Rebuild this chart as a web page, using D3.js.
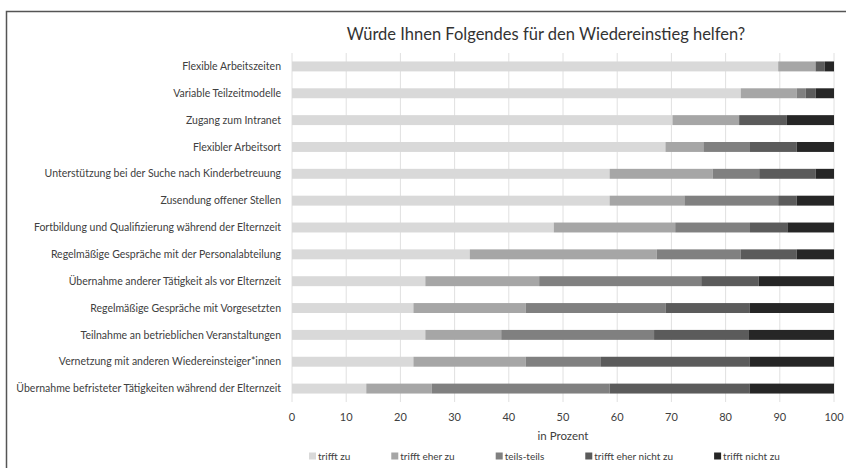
<!DOCTYPE html>
<html>
<head>
<meta charset="utf-8">
<script src="https://cdn.jsdelivr.net/npm/d3@7"></script>
<style>
  body { margin: 0; background: #fff; }
  svg text { font-family: Lato, "Open Sans", sans-serif; }
</style>
</head>
<body>
<svg id="chart" width="846" height="468"></svg>
<script>
// categories, top to bottom
const categories = [
    "Flexible Arbeitszeiten",
    "Variable Teilzeitmodelle",
    "Zugang zum Intranet",
    "Flexibler Arbeitsort",
    "Unterstützung bei der Suche nach Kinderbetreuung",
    "Zusendung offener Stellen",
    "Fortbildung und Qualifizierung während der Elternzeit",
    "Regelmäßige Gespräche mit der Personalabteilung",
    "Übernahme anderer Tätigkeit als vor Elternzeit",
    "Regelmäßige Gespräche mit Vorgesetzten",
    "Teilnahme an betrieblichen Veranstaltungen",
    "Vernetzung mit anderen Wiedereinsteiger*innen",
    "Übernahme befristeter Tätigkeiten während der Elternzeit"
];

const seriesNames = ["trifft zu", "trifft eher zu", "teils-teils", "trifft eher nicht zu", "trifft nicht zu"];

// percent values per series (same order as categories)
const triffZu         = [89.7, 82.8, 70.2, 68.9, 58.6, 58.6, 48.3, 32.8, 24.6, 22.4, 24.6, 22.4, 13.7];
const triffEherZu     = [6.9, 10.3, 12.3, 7.0, 19.0, 13.8, 22.4, 34.5, 21.0, 20.7, 14.0, 20.7, 12.1];
const teilsTeils      = [0.0, 1.7, 0.0, 8.6, 8.6, 17.3, 13.8, 15.5, 29.9, 25.8, 28.2, 13.9, 32.8];
const triffEherNicht  = [1.7, 1.8, 8.8, 8.6, 10.4, 3.4, 6.9, 10.3, 10.6, 15.5, 17.4, 27.4, 25.8];
const triffNicht      = [1.7, 3.4, 8.7, 6.9, 3.4, 6.9, 8.6, 6.9, 13.9, 15.6, 15.8, 15.6, 15.6];

const xTicks = [0, 10, 20, 30, 40, 50, 60, 70, 80, 90, 100];

const colors = ["#d9d9d9", "#a6a6a6", "#808080", "#5b5b5b", "#262626"];

const svg = d3.select("#chart");

// outer frame (only top and left edges visible in the original crop)
svg.append("path")
    .attr("d", "M6.5,468 L6.5,11.5 L846,11.5")
    .attr("fill", "none")
    .attr("stroke", "#555")
    .attr("stroke-width", 1.5);

const plotTop = 53;
const plotBottom = 402;

const x = d3.scaleLinear().domain([0, 100]).range([292, 834]);
const y = d3.scaleBand().domain(categories).range([plotTop, plotBottom]).paddingInner(0.63).paddingOuter(0.315);

// title
svg.append("text")
    .attr("x", 546)
    .attr("y", 40)
    .attr("text-anchor", "middle")
    .attr("font-size", 16.5)
    .attr("fill", "#333")
    .text("Würde Ihnen Folgendes für den Wiedereinstieg helfen?");

// gridlines
svg.append("g")
    .selectAll("line")
    .data(xTicks)
    .enter()
    .append("line")
    .attr("x1", d => x(d))
    .attr("x2", d => x(d))
    .attr("y1", plotTop)
    .attr("y2", plotBottom)
    .attr("stroke", "#e0e0e0")
    .attr("stroke-width", 1);

// stack data
const table = categories.map((c, i) => ({
    cat: c,
    "trifft zu": triffZu[i],
    "trifft eher zu": triffEherZu[i],
    "teils-teils": teilsTeils[i],
    "trifft eher nicht zu": triffEherNicht[i],
    "trifft nicht zu": triffNicht[i]
}));
const stacked = d3.stack().keys(seriesNames)(table);

svg.append("g")
    .selectAll("g")
    .data(stacked)
    .enter()
    .append("g")
    .attr("fill", (d, i) => colors[i])
    .selectAll("rect")
    .data(d => d)
    .enter()
    .append("rect")
    .attr("x", d => x(d[0]))
    .attr("width", d => Math.max(0, x(d[1]) - x(d[0])))
    .attr("y", d => y(d.data.cat))
    .attr("height", y.bandwidth());

// category labels
svg.append("g")
    .selectAll("text")
    .data(categories)
    .enter()
    .append("text")
    .attr("x", 281)
    .attr("y", d => y(d) + y.bandwidth() / 2)
    .attr("dy", "0.35em")
    .attr("text-anchor", "end")
    .attr("font-size", 10.5)
    .attr("fill", "#404040")
    .text(d => d);

// x tick labels
svg.append("g")
    .selectAll("text")
    .data(xTicks)
    .enter()
    .append("text")
    .attr("x", d => x(d))
    .attr("y", 417)
    .attr("dy", "0.35em")
    .attr("text-anchor", "middle")
    .attr("font-size", 11)
    .attr("fill", "#404040")
    .text(d => d);

// axis title
svg.append("text")
    .attr("x", (x(0) + x(100)) / 2)
    .attr("y", 436)
    .attr("dy", "0.35em")
    .attr("text-anchor", "middle")
    .attr("font-size", 11.5)
    .attr("fill", "#404040")
    .text("in Prozent");

// legend
const legend = svg.append("g");
let lx = 309;
seriesNames.forEach((name, i) => {
    const item = legend.append("g").attr("transform", `translate(${lx},456)`);
    item.append("rect")
        .attr("x", 0)
        .attr("y", -3.5)
        .attr("width", 7)
        .attr("height", 7)
        .attr("fill", colors[i]);
    const t = item.append("text")
        .attr("x", 9)
        .attr("dy", "0.35em")
        .attr("font-size", 10)
        .attr("fill", "#404040")
        .text(name);
    lx += 9 + t.node().getComputedTextLength() + 41;
});
</script>
</body>
</html>
